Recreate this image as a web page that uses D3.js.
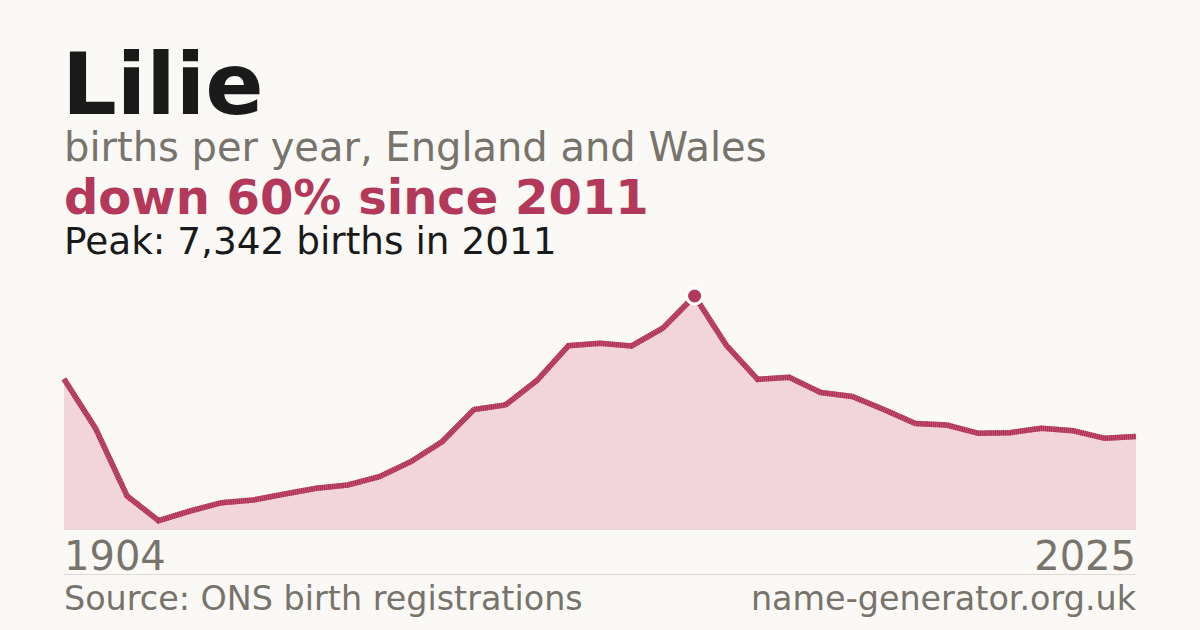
<!DOCTYPE html>
<html>
<head>
<meta charset="utf-8">
<script src="https://cdn.jsdelivr.net/npm/d3@7"></script>
<style>
  html, body { margin: 0; padding: 0; background: #faf9f5; }
  svg { display: block; font-family: 'DejaVu Sans', sans-serif; }
</style>
</head>
<body>
<svg id="chart" width="1200" height="630"></svg>
<script>
// births per year (index based, first to last)
const births = [
  4738, 3191, 1067, 292, 596, 857, 941, 1130, 1308, 1412,
  1672, 2143, 2777, 3781, 3922, 4691, 5783, 5858, 5773, 6338,
  7342, 5805, 4728, 4791, 4314, 4189, 3781, 3342, 3294, 3034,
  3053, 3191, 3116, 2877, 2937
];
const tickLabels = ['1904', '2025'];
const peakValue = 7342;
const peakYear = 2011;

const width = 1200, height = 630;
const plotLeft = 64, plotRight = 1136, plotTop = 296, plotBottom = 530;

const crimson = '#b3385a';
const grey = '#78736b';

const svg = d3.select('#chart');

svg.append('rect')
  .attr('width', width)
  .attr('height', height)
  .attr('fill', '#faf9f5');

// header texts
svg.append('text')
  .text('Lilie')
  .attr('x', plotLeft - 2)
  .attr('y', 114)
  .style('font-size', '86px')
  .style('font-weight', 'bold')
  .style('fill', '#1a1a1a');

svg.append('text')
  .text('births per year, England and Wales')
  .attr('x', plotLeft)
  .attr('y', 161)
  .style('font-size', '40px')
  .style('fill', grey);

const lastValue = births[births.length - 1];
const drop = Math.round((1 - lastValue / peakValue) * 100);

svg.append('text')
  .text(`down ${drop}% since ${peakYear}`)
  .attr('x', plotLeft)
  .attr('y', 214)
  .style('font-size', '48px')
  .style('font-weight', 'bold')
  .style('fill', crimson);

svg.append('text')
  .text(`Peak: ${d3.format(',')(peakValue)} births in ${peakYear}`)
  .attr('x', plotLeft)
  .attr('y', 254)
  .style('font-size', '37.4px')
  .style('fill', '#1a1a1a');

// scales
const x = d3.scaleLinear()
  .domain([0, births.length - 1])
  .range([plotLeft, plotRight]);

const y = d3.scaleLinear()
  .domain([0, d3.max(births)])
  .range([plotBottom, plotTop]);

const area = d3.area()
  .x((d, i) => x(i))
  .y0(plotBottom)
  .y1(d => y(d));

const line = d3.line()
  .x((d, i) => x(i))
  .y(d => y(d));

svg.append('path')
  .datum(births)
  .attr('d', area)
  .attr('fill', '#f1d5db');

// line: a lighter stroke under a finely dashed darker one
svg.append('path')
  .datum(births)
  .attr('d', line)
  .attr('fill', 'none')
  .attr('stroke', '#c45a76')
  .attr('stroke-width', 5.5);

svg.append('path')
  .datum(births)
  .attr('d', line)
  .attr('fill', 'none')
  .attr('stroke', '#ad2d50')
  .attr('stroke-width', 5.5)
  .attr('stroke-dasharray', '1.2,0.9');

// peak marker
const peakIndex = births.indexOf(d3.max(births));
svg.append('circle')
  .attr('cx', x(peakIndex))
  .attr('cy', y(births[peakIndex]))
  .attr('r', 8)
  .attr('fill', crimson)
  .attr('stroke', '#ffffff')
  .attr('stroke-width', 3);

// axis end labels
svg.append('text')
  .text(tickLabels[0])
  .attr('x', x(0))
  .attr('y', 570)
  .style('font-size', '40px')
  .style('fill', grey);

svg.append('text')
  .text(tickLabels[1])
  .attr('x', x(births.length - 1))
  .attr('y', 570)
  .attr('text-anchor', 'end')
  .style('font-size', '40px')
  .style('fill', grey);

svg.append('line')
  .attr('x1', plotLeft)
  .attr('x2', plotRight)
  .attr('y1', 574.5)
  .attr('y2', 574.5)
  .attr('stroke', '#dcd9d2')
  .attr('stroke-width', 1);

// footer
svg.append('text')
  .text('Source: ONS birth registrations')
  .attr('x', plotLeft)
  .attr('y', 610)
  .style('font-size', '33.4px')
  .style('fill', grey);

svg.append('text')
  .text('name-generator.org.uk')
  .attr('x', plotRight)
  .attr('y', 610)
  .attr('text-anchor', 'end')
  .style('font-size', '33.4px')
  .style('fill', grey);
</script>
</body>
</html>
